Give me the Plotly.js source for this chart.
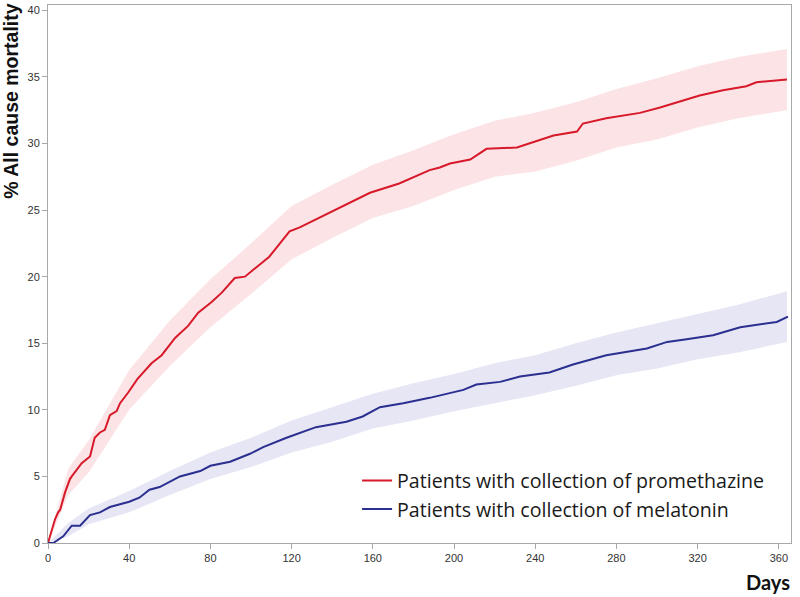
<!DOCTYPE html>
<html>
<head>
<meta charset="utf-8">
<script src="https://cdn.plot.ly/plotly-3.0.1.min.js"></script>
<style>html,body{margin:0;padding:0;background:#fff;}#chart{width:800px;height:597px;}</style>
</head>
<body>
<div id="chart"></div>
<script>
// Promethazine (red) Kaplan-Meier cumulative mortality
const promDays = [0,1,3.5,5,6,8.4,10.8,11.7,16.6,20.7,23,25.6,28,30.5,33.8,35.5,39.5,44,51,56,62.6,69,74,80.6,85.6,92,97,109,119,124,144,158.6,173,188,193,198,208,216,231,249,260.6,263.5,275,291.6,301.5,321,332.5,344,349,364];
const promVals = [0,0.5,1.8,2.3,2.5,3.8,4.8,5.0,6.0,6.5,7.9,8.3,8.5,9.6,9.9,10.5,11.3,12.3,13.5,14.1,15.4,16.3,17.3,18.1,18.8,19.9,20.0,21.5,23.4,23.7,25.2,26.3,27.0,28.0,28.2,28.5,28.8,29.6,29.7,30.6,30.9,31.5,31.9,32.3,32.7,33.6,34.0,34.3,34.6,34.8];

// Melatonin (blue)
const melaDays = [0,2.6,7.5,11.7,15.8,20.7,25.6,30.5,40,45,50,55,65,75,80,89.7,99.5,106,117.5,132,147,155,163.5,175,188,204.6,211,222.7,232.5,247,258.6,275,295,305,314.6,327.6,341,359,364.5];
const melaVals = [0,0,0.5,1.3,1.3,2.1,2.3,2.7,3.1,3.4,4.0,4.2,5.0,5.4,5.8,6.1,6.7,7.2,7.9,8.7,9.1,9.5,10.2,10.5,10.9,11.5,11.9,12.1,12.5,12.8,13.4,14.1,14.6,15.1,15.3,15.6,16.2,16.6,17.0];

// Confidence bands
const bandDays = [0,10,20,40,60,80,100,120,140,160,180,200,220,240,260,280,300,320,340,364];
const promLo = [0,3.6,5.3,10.0,13.3,16.2,18.7,21.3,22.9,24.4,25.3,26.5,27.5,27.9,28.7,29.7,30.3,31.2,31.9,32.5];
const promHi = [0,5.6,7.7,13.0,16.7,19.8,22.5,25.3,26.9,28.4,29.5,30.7,31.7,32.3,33.1,34.1,34.9,35.8,36.5,37.1];
const melaLo = [0,0.5,1.4,2.3,3.6,4.8,5.7,6.8,7.6,8.6,9.2,9.9,10.5,11.1,11.8,12.6,13.1,13.8,14.3,15.1];
const melaHi = [0,1.5,2.6,3.9,5.4,6.8,7.9,9.2,10.2,11.2,12.0,12.7,13.5,14.1,15.0,15.8,16.5,17.2,17.9,18.9];

const xTicks = [0,40,80,120,160,200,240,280,320,360];
const yTicks = [0,5,10,15,20,25,30,35,40];

const redLine = '#d7192a', blueLine = '#2b2f8f';
const redBand = 'rgba(246,170,178,0.32)', blueBand = 'rgba(190,190,228,0.38)';

const traces = [
  {x: bandDays, y: promLo, mode: 'lines', line: {width: 0, color: redBand}, showlegend: false, hoverinfo: 'skip'},
  {x: bandDays, y: promHi, mode: 'lines', line: {width: 0, color: redBand}, fill: 'tonexty', fillcolor: redBand, showlegend: false, hoverinfo: 'skip'},
  {x: bandDays, y: melaLo, mode: 'lines', line: {width: 0, color: blueBand}, showlegend: false, hoverinfo: 'skip'},
  {x: bandDays, y: melaHi, mode: 'lines', line: {width: 0, color: blueBand}, fill: 'tonexty', fillcolor: blueBand, showlegend: false, hoverinfo: 'skip'},
  {x: promDays, y: promVals, mode: 'lines', line: {color: redLine, width: 2}, name: 'Patients with collection of promethazine'},
  {x: melaDays, y: melaVals, mode: 'lines', line: {color: blueLine, width: 2}, name: 'Patients with collection of melatonin'}
];

const axisCommon = {
  showgrid: false, zeroline: false, showline: true, linecolor: '#a8a8a8', linewidth: 1, mirror: true,
  ticks: 'outside', ticklen: 5, tickcolor: '#a8a8a8', tickfont: {family: 'Liberation Sans, Arial', size: 11, color: '#333'}
};

const layout = {
  width: 800, height: 597,
  margin: {l: 48, r: 9, t: 5, b: 54},
  paper_bgcolor: '#fff', plot_bgcolor: '#fff',
  xaxis: Object.assign({}, axisCommon, {range: [0, 366], tickvals: xTicks, ticktext: xTicks.map(String), title: {text: ''}}),
  yaxis: Object.assign({}, axisCommon, {range: [0, 40.4], tickvals: yTicks, ticktext: yTicks.map(String), title: {text: ''}}),
  legend: {x: 0.416, y: 0.152, xanchor: 'left', yanchor: 'top', bgcolor: 'rgba(0,0,0,0)', traceorder: 'normal',
           font: {family: 'Open Sans, sans-serif', size: 19.6, color: '#1a1a1a'}, tracegroupgap: 0, itemwidth: 30},
  annotations: [
    {text: '<b>% All cause mortality</b>', xref: 'paper', yref: 'paper', x: -0.049, y: 1.007, xanchor: 'center', yanchor: 'top',
     textangle: -90, showarrow: false, font: {family: 'Liberation Sans, Arial', size: 19.5, color: '#111'}},
    {text: '<b>Days</b>', xref: 'paper', yref: 'paper', x: 1.0013, y: -0.073, xanchor: 'right', yanchor: 'middle',
     showarrow: false, font: {family: 'Lato, Open Sans, sans-serif', size: 20, color: '#111'}}
  ]
};

Plotly.newPlot('chart', traces, layout, {displayModeBar: false, staticPlot: true});
</script>
</body>
</html>
